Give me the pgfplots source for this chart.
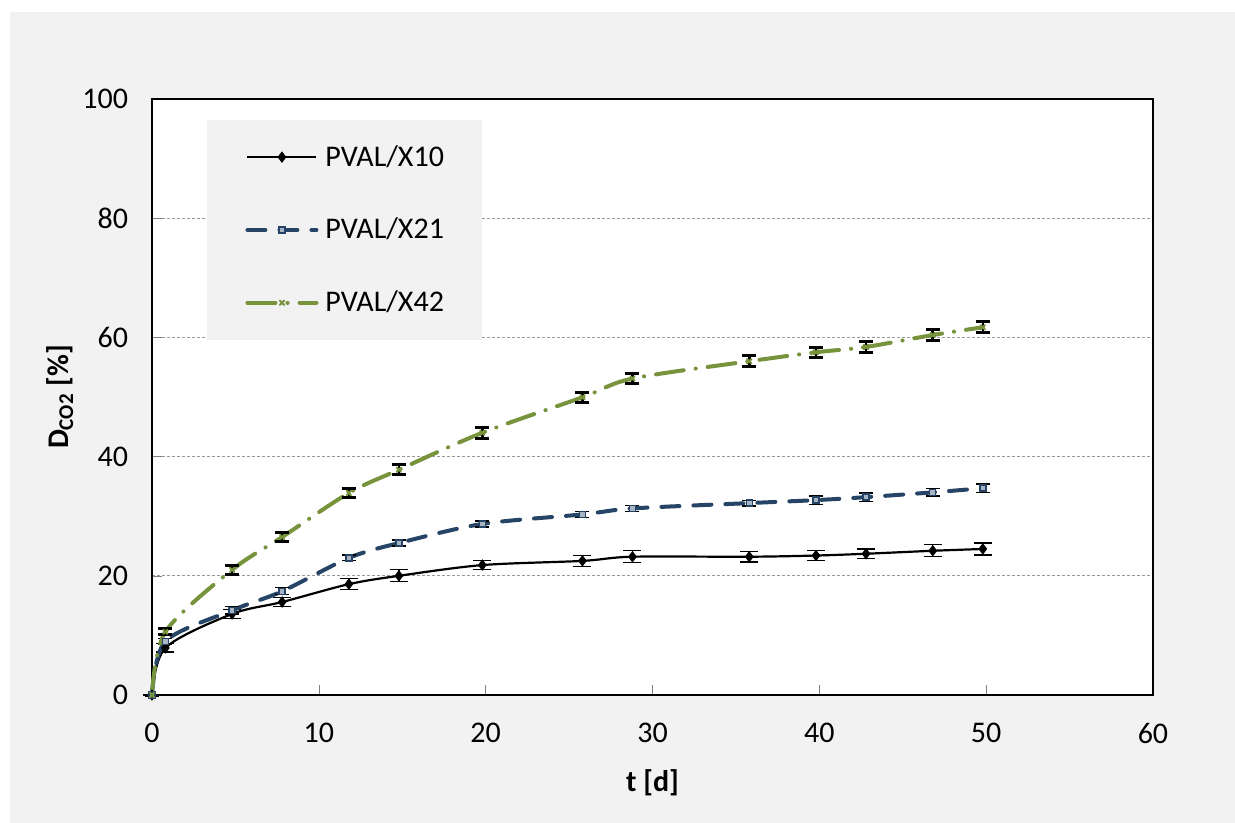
\documentclass[border=0pt]{standalone}
\usepackage{fontspec}
\setmainfont{Carlito}
\usepackage{pgfplots}
\pgfplotsset{compat=1.18}
\usepackage{pgfplotstable}
\definecolor{bgc}{HTML}{F2F2F2}
\definecolor{cblue}{HTML}{254466}
\definecolor{cgreen}{HTML}{77933C}
\pgfplotstableread{
x y e
0 0 0
0.8 7.9 0.7
4.8 13.6 0.8
7.8 15.6 0.8
11.8 18.6 0.9
14.8 20.0 1.0
19.8 21.8 0.8
25.8 22.5 0.9
28.8 23.2 1.0
35.8 23.2 0.9
39.8 23.4 0.9
42.8 23.7 0.8
46.8 24.2 1.0
49.8 24.5 1.0
}\tabA
\pgfplotstableread{
x y e
0 0 0
0.8 9.0 0.5
4.8 14.2 0.6
7.8 17.4 0.6
11.8 23.0 0.5
14.8 25.5 0.5
19.8 28.7 0.5
25.8 30.3 0.5
28.8 31.3 0.5
35.8 32.2 0.5
39.8 32.7 0.7
42.8 33.2 0.7
46.8 34.0 0.6
49.8 34.7 0.7
}\tabB
\pgfplotstableread{
x y e
0 0 0
0.8 10.6 0.5
4.8 21.0 0.8
7.8 26.5 0.8
11.8 33.9 0.7
14.8 37.8 0.8
19.8 44.0 0.9
25.8 49.95 0.8
28.8 53.1 0.9
35.8 56.0 0.9
39.8 57.5 0.8
42.8 58.4 0.9
46.8 60.4 0.9
49.8 61.7 0.9
}\tabC
\begin{document}
\begin{tikzpicture}
\fill[white] (-76bp,-64bp) rectangle (541.5bp,347.5bp);
\fill[bgc] (-71bp,-64bp) rectangle (541.5bp,341.5bp);
\useasboundingbox (-76bp,-64bp) rectangle (541.5bp,347.5bp);
\begin{axis}[
  at={(0,0)}, anchor=south west,
  scale only axis, width=500.5bp, height=298bp,
  xmin=0, xmax=60, ymin=0, ymax=100,
  xtick={0,10,...,60}, ytick={0,20,...,100},
  tick align=inside, tick pos=left, major tick length=5bp,
  axis background/.style={fill=white},
  axis line style={line width=1.2bp, black},
  ymajorgrids, grid style={gray!80, dash pattern=on 1.5bp off 1bp, line width=0.5bp},
  clip=false,
  /pgf/number format/assume math mode=true,
  tick label style={font=\fontsize{15bp}{18bp}\selectfont},
  xticklabel style={anchor=center, yshift=-19bp},
  yticklabel style={anchor=east, xshift=-8.5bp},
  every axis x label/.style={at={(axis description cs:0.5,-0.1477)}, anchor=center, font=\fontsize{15bp}{18bp}\selectfont\bfseries},
  every axis y label/.style={at={(axis description cs:-0.0919,0.5)}, anchor=center, rotate=90, font=\fontsize{15bp}{18bp}\selectfont\bfseries},
  xlabel={t [d]},
  ylabel={D\textsubscript{CO2} [\%]},
  legend style={at={(0.055,0.965)}, anchor=north west, fill=bgc, draw=none,
    font=\fontsize{15bp}{18bp}\selectfont, row sep=20.5bp, inner xsep=19bp, inner ysep=10.5bp,
    nodes={inner xsep=0bp}},
  legend cell align=left,
  legend image code/.code={\draw[mark repeat=2,mark phase=2] plot coordinates {(0bp,0bp) (17.25bp,0bp) (34.5bp,0bp)}; \path (38bp,0bp);},
]
\addplot+[black, line width=1.1bp, smooth, mark=diamond*, mark size=2bp, mark options={black, solid},
  error bars/.cd, y dir=both, y explicit,
  error bar style={black, line width=0.6bp, solid},
  error mark options={rotate=90, mark size=4.5bp, black, line width=0.6bp}]
  table[x=x, y=y, y error=e] {\tabA};
\addlegendentry{PVAL/X10}
\addplot+[cblue, line width=2bp, smooth, dash pattern=on 9bp off 7bp, line cap=round,
  mark=square*, mark size=1.5bp, mark options={solid, draw=cblue, fill=cblue!40!white, line width=0.7bp},
  error bars/.cd, y dir=both, y explicit,
  error bar style={black, line width=0.6bp, solid},
  error mark options={rotate=90, mark size=3.5bp, black, line width=0.6bp}]
  table[x=x, y=y, y error=e] {\tabB};
\addlegendentry{PVAL/X21}
\addplot+[cgreen, line width=2bp, smooth, dash pattern=on 14bp off 6bp on 0.1bp off 6bp, line cap=round,
  mark=x, mark size=1.5bp, mark options={solid, cgreen, line width=1bp},
  error bars/.cd, y dir=both, y explicit,
  error bar style={black, line width=1.3bp, solid},
  error mark options={rotate=90, mark size=3.5bp, black, line width=1.5bp}]
  table[x=x, y=y, y error=e] {\tabC};
\addlegendentry{PVAL/X42}
\end{axis}
\end{tikzpicture}
\end{document}
